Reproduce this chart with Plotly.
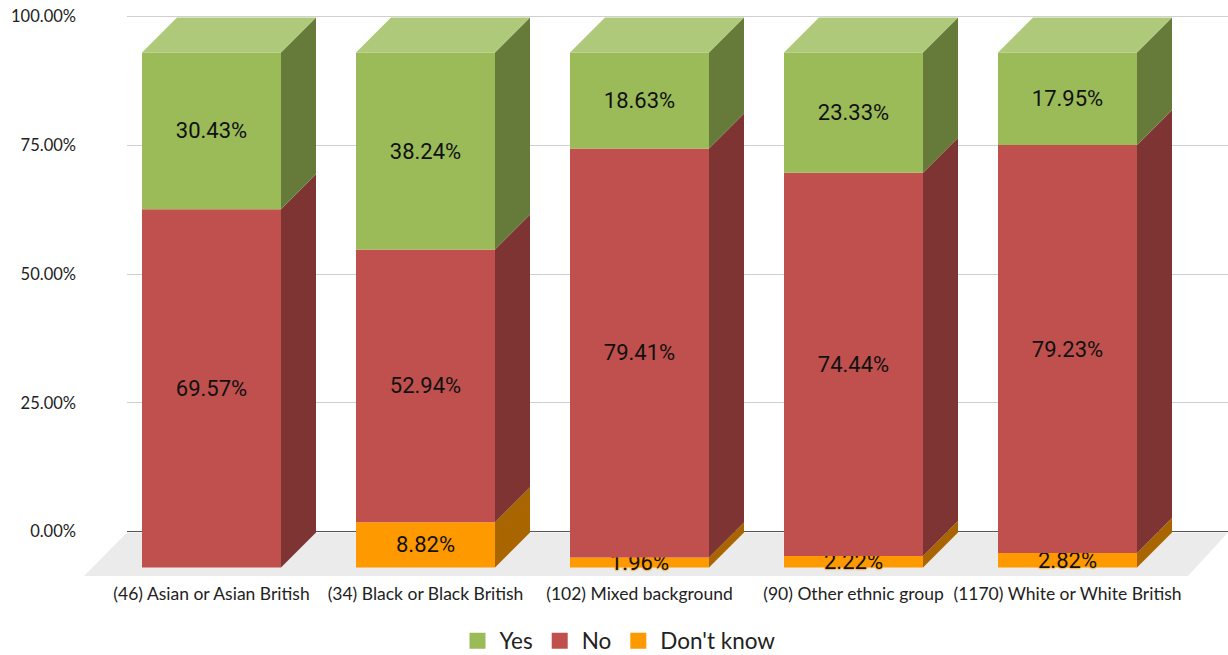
import plotly.graph_objects as go

categories = ["(46) Asian or Asian British", "(34) Black or Black British",
              "(102) Mixed background", "(90) Other ethnic group",
              "(1170) White or White British"]
yes_vals = [30.43, 38.24, 18.63, 23.33, 17.95]
no_vals = [69.57, 52.94, 79.41, 74.44, 79.23]
dk_vals = [0.0, 8.82, 1.96, 2.22, 2.82]
series_names = ["Don't know", "No", "Yes"]  # stacking order bottom -> top
y_tick_vals = [0, 25, 50, 75, 100]
y_tick_text = ["0.00%", "25.00%", "50.00%", "75.00%", "100.00%"]

front_colors = {"Yes": "#9BBB59", "No": "#C0504D", "Don't know": "#FF9900"}
side_colors = {"Yes": "#667B3A", "No": "#7E3433", "Don't know": "#A86500"}
top_color = "#AFC97B"

W, H = 1228, 655
L, R, T, B = 127, 0, 15, 77
px_per_x = 214.0
x_first_center_px = 211.5
px_per_y = 5.15
y0_px = 531.5

plot_w = W - L - R
plot_h = H - T - B
x_lo = (L - x_first_center_px) / px_per_x
x_hi = (W - R - x_first_center_px) / px_per_x
y_hi = (y0_px - T) / px_per_y
y_lo = -(H - B - y0_px) / px_per_y

bar_w = 139 / px_per_x
dx = 35 / px_per_x
dy = 35 / px_per_y
front_off = -7.0

series_vals = {"Don't know": dk_vals, "No": no_vals, "Yes": yes_vals}
xs = list(range(len(categories)))

fig = go.Figure()

# cumulative bases
bases = {}
cum = [0.0] * len(categories)
for name in series_names:
    bases[name] = list(cum)
    cum = [c + v for c, v in zip(cum, series_vals[name])]
totals = cum

# front faces
for name in series_names:
    vals = series_vals[name]
    texts = [f"{v:.2f}%" if v > 0 else "" for v in vals]
    tf = dict(family="Roboto", size=22, color="#111111")
    if name == "Don't know":
        tf["shadow"] = "0 0 2px #FF9900, 0 0 2px #FF9900, 0 0 2px #FF9900"
    fig.add_trace(go.Bar(
        x=xs, y=vals, base=[front_off + b for b in bases[name]],
        width=bar_w, marker=dict(color=front_colors[name], line=dict(width=0)),
        text=texts, textposition="inside", insidetextanchor="middle",
        textangle=0, constraintext="none", textfont=tf,
        showlegend=False, hoverinfo="skip", name=name,
    ))

# side faces
for name in series_names:
    vals = series_vals[name]
    px, py = [], []
    for i in xs:
        if vals[i] <= 0:
            continue
        y0 = front_off + bases[name][i]
        y1 = y0 + vals[i]
        xr = i + bar_w / 2
        px += [xr, xr + dx, xr + dx, xr, xr, None]
        py += [y0, y0 + dy, y1 + dy, y1, y0, None]
    fig.add_trace(go.Scatter(x=px, y=py, mode="lines", fill="toself",
                             fillcolor=side_colors[name], line=dict(width=0),
                             showlegend=False, hoverinfo="skip"))

# top faces
px, py = [], []
for i in xs:
    yt = front_off + totals[i]
    xl, xr = i - bar_w / 2, i + bar_w / 2
    px += [xl, xr, xr + dx, xl + dx, xl, None]
    py += [yt, yt, yt + dy, yt + dy, yt, None]
fig.add_trace(go.Scatter(x=px, y=py, mode="lines", fill="toself",
                         fillcolor=top_color, line=dict(width=0),
                         showlegend=False, hoverinfo="skip"))

# legend entries
for name in ["Yes", "No", "Don't know"]:
    fig.add_trace(go.Scatter(x=[None], y=[None], mode="markers", name=name,
                             marker=dict(symbol="square", size=17,
                                         color=front_colors[name])))

# floor (decorative, paper coords)
def to_paper(xp, yp):
    return ((xp - L) / plot_w, (H - B - yp) / plot_h)

floor_pts = [to_paper(84, 576), to_paper(127, 532.5), to_paper(1228, 532.5), to_paper(1188, 576)]
path = "M " + " L ".join(f"{a},{b}" for a, b in floor_pts) + " Z"
fig.add_shape(type="path", path=path, xref="paper", yref="paper",
              fillcolor="#EBEBEB", line=dict(width=0), layer="below")

fig.update_layout(
    width=W, height=H,
    margin=dict(l=L, r=R, t=T, b=B, autoexpand=False),
    paper_bgcolor="white", plot_bgcolor="rgba(0,0,0,0)",
    barmode="overlay",
    xaxis=dict(range=[x_lo, x_hi], tickvals=xs, ticktext=categories,
               showgrid=False, zeroline=False, showline=False, ticks="",
               tickfont=dict(family="Lato", size=17.5, color="#222222"),
               ticklabelstandoff=3, fixedrange=True, automargin=False),
    yaxis=dict(range=[y_lo, y_hi], tickvals=y_tick_vals, ticktext=y_tick_text,
               showgrid=True, gridcolor="#D0D0D0", gridwidth=1,
               zeroline=True, zerolinecolor="#555555", zerolinewidth=1,
               showline=False, ticks="",
               tickfont=dict(family="Lato", size=16.5, color="#222222"),
               ticklabelstandoff=50, fixedrange=True, automargin=False),
    legend=dict(orientation="h", x=618 / W, xanchor="center", xref="container",
                y=1 - 641 / H, yanchor="middle", yref="container",
                itemwidth=34,
                font=dict(family="Lato", size=22.5, color="#222222"),
                bgcolor="rgba(0,0,0,0)"),
    font=dict(family="Lato"),
)

fig.write_html("out.html", config={"displayModeBar": False},
               post_script="document.body.style.margin='0';document.body.style.overflow='hidden';")
